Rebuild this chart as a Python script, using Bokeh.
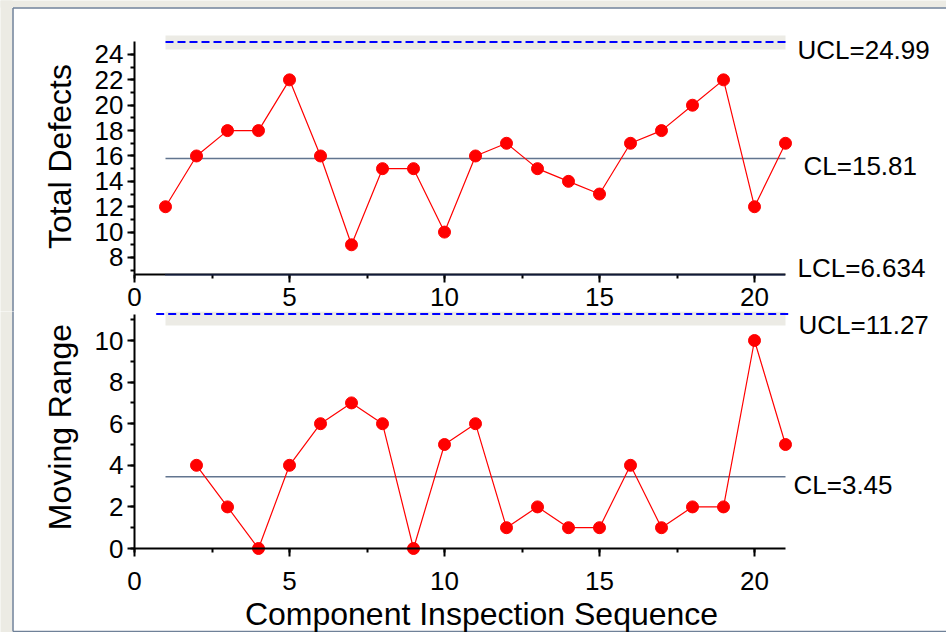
import math
from bokeh.plotting import figure
from bokeh.layouts import column
from bokeh.models import Range1d, SingleIntervalTicker, Label
from bokeh.embed import file_html
from bokeh.resources import INLINE

# ---------------- data ----------------
sequence = list(range(1, 22))
total_defects = [12, 16, 18, 18, 22, 16, 9, 15, 15, 10, 16, 17, 15, 14, 13, 17, 18, 20, 22, 12, 17]
mr_sequence = list(range(2, 22))
moving_range = [4, 2, 0, 4, 6, 7, 6, 0, 5, 6, 1, 2, 1, 1, 4, 1, 2, 2, 10, 5]
ucl_total, cl_total, lcl_total = 24.99, 15.81, 6.634
ucl_mr, cl_mr, lcl_mr = 11.27, 3.45, 0.0
limit_span = [1, 21]
mr_ucl_span = [0.7, 21.1]
x_label = "Component Inspection Sequence"
y_label_top = "Total Defects"
y_label_bottom = "Moving Range"

# ---------------- style / geometry ----------------
FONT = "Liberation Sans"
RED = "#ff0000"
CL_COLOR = "#62758f"
UCL_COLOR = "#0000ff"
BAND = "#ecebe5"
OUTER = "#ecebe4"
FRAME_LINE = "#6f8198"
W = 946
H1, H2 = 311, 321           # canvas heights of the two panels
SX = 31.0                   # px per sequence unit
X0 = 134.0                  # px of x = 0
SY1, Y1_LCL = 12.6875, 274.3  # top: px per unit, px of LCL
SY2, Y2_ZERO = 20.8, 237.0    # bottom: px per unit, px of 0 (canvas coords)


def xd(px):
    return (px - X0) / SX


def yd1(py):
    return lcl_total + (Y1_LCL - py) / SY1


def yd2(py):
    return lcl_mr + (Y2_ZERO - py) / SY2


def style_axis(ax, tick_out, standoff):
    ax.axis_line_width = 2
    ax.axis_line_color = "black"
    ax.major_tick_line_width = 2
    ax.minor_tick_line_width = 2
    ax.major_tick_line_color = "black"
    ax.minor_tick_line_color = "black"
    ax.major_tick_in = 0
    ax.minor_tick_in = 0
    ax.major_tick_out = tick_out
    ax.minor_tick_out = 4
    ax.major_label_text_font = FONT
    ax.major_label_text_font_size = "26px"
    ax.major_label_text_color = "black"
    ax.major_label_standoff = standoff


def text(p, x, y, s, size="26px", dx=0, dy=0, align="left", baseline="alphabetic", angle=0.0):
    p.add_layout(Label(x=x, y=y, text=s, x_offset=dx, y_offset=dy, angle=angle,
                       text_font=FONT, text_font_size=size, text_color="black",
                       text_align=align, text_baseline=baseline))


def make_fig(h, yr):
    p = figure(width=W, height=h, x_range=Range1d(xd(0), xd(W)), y_range=Range1d(*yr),
               output_backend="svg", toolbar_location=None,
               min_border_left=0, min_border_right=0, min_border_top=0, min_border_bottom=0)
    p.grid.visible = False
    p.outline_line_color = None
    p.background_fill_color = "white"
    p.border_fill_color = "white"
    return p


# ---------------- top chart ----------------
p1 = make_fig(H1, (yd1(H1), yd1(0)))
# window decoration: grey surround and panel border
p1.quad(left=[xd(-5)], right=[xd(12)], bottom=[yd1(H1 + 10)], top=[yd1(-5)], fill_color=OUTER, line_color=None)
p1.quad(left=[xd(-5)], right=[xd(W + 5)], bottom=[yd1(7)], top=[yd1(-5)], fill_color=OUTER, line_color=None)
p1.line(x=[xd(12.5), xd(12.5)], y=[yd1(H1 + 10), yd1(7.5)], line_color=FRAME_LINE, line_width=1.5)
p1.line(x=[xd(12.5), xd(W + 5)], y=[yd1(7.5), yd1(7.5)], line_color=FRAME_LINE, line_width=1.5)

p1.quad(left=[limit_span[0]], right=[limit_span[1]], bottom=[yd1(49)], top=[yd1(35)],
        fill_color=BAND, line_color=None)
p1.line(x=[limit_span[0], 21.1], y=[ucl_total] * 2, line_color=UCL_COLOR, line_width=2, line_dash="8 4")
p1.line(x=limit_span, y=[cl_total] * 2, line_color=CL_COLOR, line_width=1.5)
p1.line(x=sequence, y=total_defects, line_color=RED, line_width=1.2)
p1.scatter(x=sequence, y=total_defects, size=12, fill_color=RED, line_color=RED)

p1.xaxis.ticker = SingleIntervalTicker(interval=5, num_minor_ticks=2)
p1.xaxis.bounds = (0, 21)
p1.xaxis.fixed_location = lcl_total
style_axis(p1.xaxis[0], 8, 5)
p1.yaxis.ticker = SingleIntervalTicker(interval=2, num_minor_ticks=2)
p1.yaxis.bounds = (lcl_total, ucl_total)
p1.yaxis.fixed_location = 0
style_axis(p1.yaxis[0], 7, 4)
# LCL drawn over the axis line
p1.line(x=limit_span, y=[lcl_total] * 2, line_color="#22346a", line_width=2, line_dash="1 1",
        level="overlay")

text(p1, xd(59), yd1(156), y_label_top, size="32px", align="center", baseline="middle", angle=math.pi / 2)
text(p1, limit_span[1], ucl_total, f"UCL={ucl_total}", dx=12, dy=-8)
text(p1, limit_span[1], cl_total, f"CL={cl_total}", dx=18, dy=-8)
text(p1, limit_span[1], lcl_total, f"LCL={lcl_total}", dx=12, dy=7)

# ---------------- bottom chart ----------------
p2 = make_fig(H2, (yd2(H2), yd2(0)))
p2.quad(left=[xd(-5)], right=[xd(12)], bottom=[yd2(H2 + 5)], top=[yd2(-10)], fill_color=OUTER, line_color=None)
p2.line(x=[xd(12.5), xd(12.5)], y=[yd2(320), yd2(-10)], line_color=FRAME_LINE, line_width=1.5)
p2.line(x=[xd(12.5), xd(W + 5)], y=[yd2(320), yd2(320)], line_color=FRAME_LINE, line_width=1.5)

p2.quad(left=[limit_span[0]], right=[limit_span[1]], bottom=[yd2(14)], top=[yd2(0)],
        fill_color=BAND, line_color=None)
p2.line(x=mr_ucl_span, y=[ucl_mr] * 2, line_color=UCL_COLOR, line_width=2, line_dash="8 4")
p2.line(x=limit_span, y=[cl_mr] * 2, line_color=CL_COLOR, line_width=1.5)
p2.line(x=mr_sequence, y=moving_range, line_color=RED, line_width=1.2)
p2.scatter(x=mr_sequence, y=moving_range, size=12, fill_color=RED, line_color=RED)

p2.xaxis.ticker = SingleIntervalTicker(interval=5, num_minor_ticks=2)
p2.xaxis.bounds = (0, 21)
p2.xaxis.fixed_location = lcl_mr
style_axis(p2.xaxis[0], 8, 15)
p2.yaxis.ticker = SingleIntervalTicker(interval=2, num_minor_ticks=2)
p2.yaxis.bounds = (lcl_mr, ucl_mr)
p2.yaxis.fixed_location = 0
style_axis(p2.yaxis[0], 7, 4)

text(p2, xd(59), yd2(426.5 - H1), y_label_bottom, size="32px", align="center", baseline="middle",
     angle=math.pi / 2)
text(p2, limit_span[1], ucl_mr, f"UCL={ucl_mr}", dx=13, dy=-11)
text(p2, limit_span[1], cl_mr, f"CL={cl_mr}", dx=8, dy=-8)
text(p2, xd(481), yd2(613 - H1), x_label, size="32px", align="center", baseline="alphabetic")

layout = column(p1, p2, spacing=0)
open("out.html", "w").write(file_html(layout, INLINE))
